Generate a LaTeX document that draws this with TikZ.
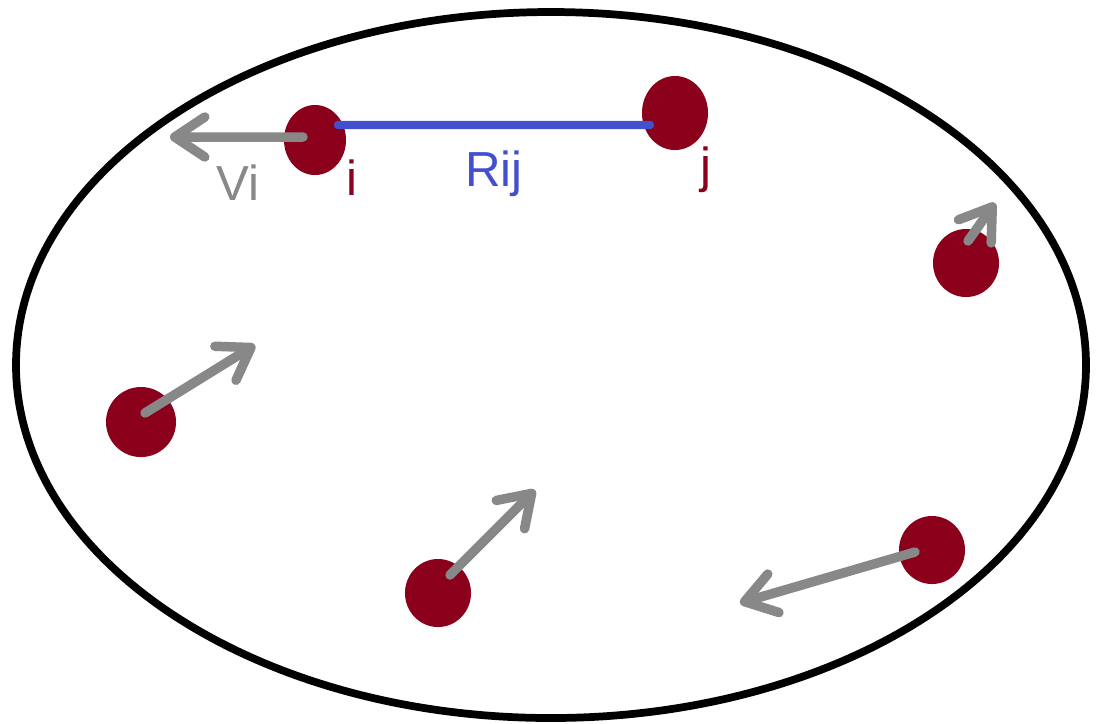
\documentclass[tikz,border=0pt]{standalone}
\usepackage{fontspec}
\setmainfont{Liberation Sans}
\usetikzlibrary{arrows.meta,shapes.geometric}

\definecolor{blood}{RGB}{139,0,26}
\definecolor{bondblue}{RGB}{66,80,208}
\definecolor{velgray}{RGB}{136,136,136}

\tikzset{
  particle/.style={ellipse, fill=blood, inner sep=0pt, minimum width=0.66cm, minimum height=0.68cm},
  vel/.style={draw=velgray, line width=2.7pt, line cap=round,
    -{Straight Barb[length=0.3cm, width=0.4cm, line cap=round, round]}},
  bond/.style={draw=bondblue, line width=2.4pt, line cap=round},
  lbl/.style={font=\fontsize{14}{16}\selectfont, inner sep=0pt}
}

\begin{document}
\begin{tikzpicture}[x=0.01cm, y=-0.01cm]

  \useasboundingbox (0,0) rectangle (1100,723);

  % The container
  \draw[line width=2.2pt] (551,365) ellipse [x radius=535, y radius=353];

  % Particles
  \node[particle, minimum width=0.62cm, minimum height=0.7cm] (pi) at (315,140) {};
  \node[particle, minimum width=0.66cm, minimum height=0.74cm] (pj) at (675,113) {};
  \node[particle] (pa) at (966,263) {};
  \node[particle, minimum size=0.7cm] (pb) at (141,422) {};
  \node[particle] (pc) at (438,593) {};
  \node[particle] (pd) at (932,550) {};

  % Velocity tips
  \coordinate (vi) at (170,137);
  \coordinate (va) at (995,203);
  \coordinate (vb) at (255,345);
  \coordinate (vc) at (535,490);
  \coordinate (vd) at (740,603);

  % Velocities
  \draw[vel] ([shift={(-0.12cm,0.03cm)}]pi.center) -- (vi);
  \draw[vel] ([shift={(0.02cm,0.22cm)}]pa.center) -- (va);
  \draw[vel] ([shift={(0.04cm,0.09cm)}]pb.center) -- (vb);
  \draw[vel] ([shift={(0.12cm,0.18cm)}]pc.center) -- (vc);
  \draw[vel] ([shift={(-0.17cm,-0.02cm)}]pd.center) -- (vd);

  % Distance between i and j
  \draw[bond] ([shift={(0.23cm,0.15cm)}]pi.center) -- ([shift={(-0.25cm,-0.12cm)}]pj.center)
    node[midway, below=0.22cm, lbl, text=bondblue] (rij) {Rij};

  % Labels
  \node[lbl, text=velgray] (lvi) at (238,183) {Vi};
  \node[lbl, text=blood] (li) at (352,178) {i};
  \node[lbl, text=blood] (lj) at (706,170) {j};

\end{tikzpicture}
\end{document}
